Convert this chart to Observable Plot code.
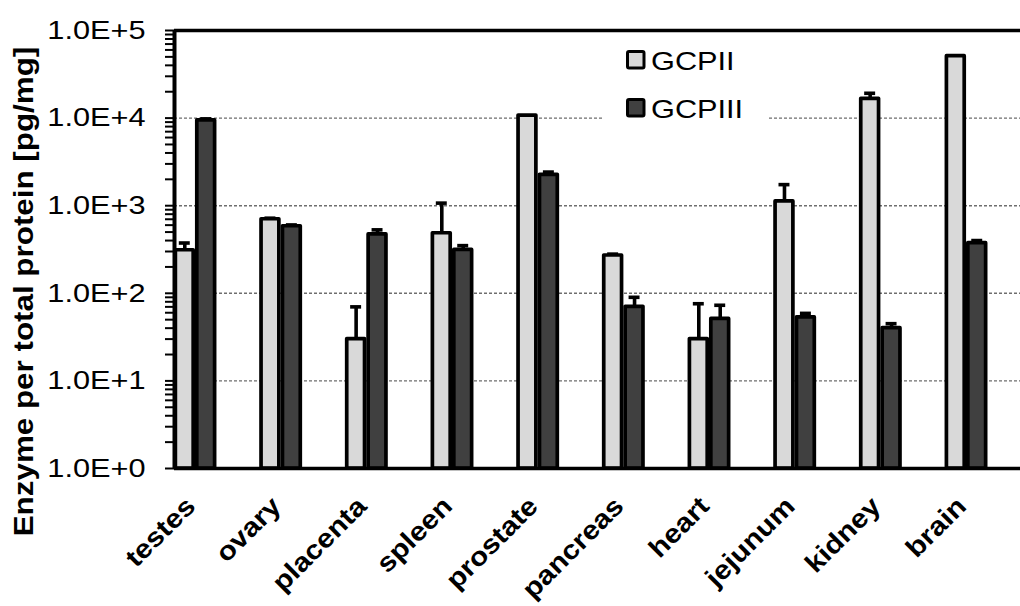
<!DOCTYPE html>
<html><head><meta charset="utf-8">
<script src="https://cdn.jsdelivr.net/npm/d3@7"></script>
<script src="https://cdn.jsdelivr.net/npm/@observablehq/plot@0.6"></script>
<style>
html,body{margin:0;padding:0;background:#fff;overflow:hidden}
</style></head><body><div id="wrap"></div>
<script>
// ---- data ----
const tissues = ["testes","ovary","placenta","spleen","prostate","pancreas","heart","jejunum","kidney","brain"];
const seriesNames = ["GCPII","GCPIII"];
const seriesColors = ["#d9d9d9","#404040"];
const gcp2 =    [310, 700, 30, 485, 10700, 270, 30, 1120, 16600, 50900];
const gcp2Err = [65,  20,  40, 585, 0,     10,  46, 620,  2600,  0];
const gcp3 =    [9400, 583, 470, 313, 2250, 70, 51, 53, 40, 373];
const gcp3Err = [400,  20,  60,  37,  170,  20, 22, 6,  5,  27];
const decadeTicks = [1, 10, 100, 1000, 10000, 100000];
const yTitle = "Enzyme per total protein [pg/mg]";

// ---- build table ----
const rows = [];
tissues.forEach((t, i) => {
  rows.push({tissue: t, idx: i, k: 0, series: seriesNames[0], value: gcp2[i], err: gcp2Err[i]});
  rows.push({tissue: t, idx: i, k: 1, series: seriesNames[1], value: gcp3[i], err: gcp3Err[i]});
});
const errRows = rows.filter(d => d.err > 0);
const slot = 0.25, capHalf = 0.064;
const bx1 = d => d.idx + (d.k - 1) * slot;
const bx2 = d => d.idx + d.k * slot;
const cx = d => d.idx + (d.k - 0.5) * slot;
const minorTicks = [];
decadeTicks.slice(0, -1).forEach(d => { for (let m = 2; m <= 9; m++) minorTicks.push(d * m); });
const xDomain = [-0.245, 9.63];

const chart = Plot.plot({
  width: 1020, height: 606,
  marginLeft: 174, marginRight: 0, marginTop: 30, marginBottom: 138,
  style: {fontFamily: "'Liberation Sans', Arial, sans-serif", background: "white", overflow: "visible", color: "black"},
  x: {domain: xDomain, axis: null},
  y: {type: "log", domain: [1, 1e5], axis: null},
  color: {domain: seriesNames, range: seriesColors},
  marks: [
    Plot.ruleY(decadeTicks.slice(1, -1), {stroke: "#6e6e6e", strokeWidth: 1.4, strokeDasharray: "3 2"}),
    Plot.rectY(rows, {x1: bx1, x2: bx2, y1: 1, y2: "value", fill: "series", stroke: "black",
      strokeWidth: 3.7, strokeLinejoin: "round", insetLeft: 1.8, insetRight: 1.8}),
    Plot.ruleX(errRows, {x: cx, y1: "value", y2: d => d.value + d.err, stroke: "black", strokeWidth: 3.6}),
    Plot.ruleY(errRows, {y: d => d.value + d.err, x1: d => cx(d) - capHalf, x2: d => cx(d) + capHalf, stroke: "black", strokeWidth: 3.6}),
    Plot.ruleY([decadeTicks[0], decadeTicks[decadeTicks.length - 1]], {stroke: "black", strokeWidth: 3.5}),
    Plot.ruleX([xDomain[0]], {stroke: "black", strokeWidth: 4}),
    Plot.axisY(minorTicks, {tickSize: 9, strokeWidth: 2, fill: "none", label: null}),
    Plot.axisY(decadeTicks, {tickSize: 9, tickPadding: 20, strokeWidth: 2, fontSize: 25.6,
      tickFormat: d => "1.0E+" + Math.round(Math.log10(d)), label: null}),
    Plot.text(tissues, {x: (d, i) => i, frameAnchor: "bottom", rotate: -45, textAnchor: "end",
      lineAnchor: "top", dx: -12, dy: 26, fontSize: 26.5, fontWeight: "bold"}),
    Plot.text([yTitle], {frameAnchor: "left", rotate: -90, textAnchor: "middle", lineAnchor: "middle",
      dx: -150, dy: 42, fontSize: 28, fontWeight: "bold"})
  ]
});
document.getElementById("wrap").appendChild(chart);

// ---- legend (inside plot area, upper middle) ----
const lg = d3.select(chart).append("g")
  .attr("font-family", "'Liberation Sans', Arial, sans-serif").attr("text-anchor", "start");
lg.append("rect").attr("x", 603).attr("y", 35).attr("width", 165).attr("height", 93).attr("fill", "white");
seriesNames.forEach((s, i) => {
  lg.append("rect").attr("x", 627.5).attr("y", 51.5 + 48 * i).attr("width", 16.5).attr("height", 16.5)
    .attr("rx", 1.5).attr("fill", seriesColors[i]).attr("stroke", "black").attr("stroke-width", 3);
  lg.append("text").attr("x", 651).attr("y", 70 + 48 * i).attr("font-size", 25.6)
    .attr("fill", "black").attr("text-anchor", "start").text(s);
});

// ---- the reference's lettering is wide: stretch glyphs along their baseline ----
chart.querySelectorAll("text").forEach(t => {
  const bold = t.closest('[font-weight="bold"]');
  const s = bold ? 1.12 : 1.2;
  const len = t.getComputedTextLength();
  if (len > 0) {
    t.setAttribute("textLength", (len * s).toFixed(2));
    t.setAttribute("lengthAdjust", "spacingAndGlyphs");
  }
});
</script></body></html>
